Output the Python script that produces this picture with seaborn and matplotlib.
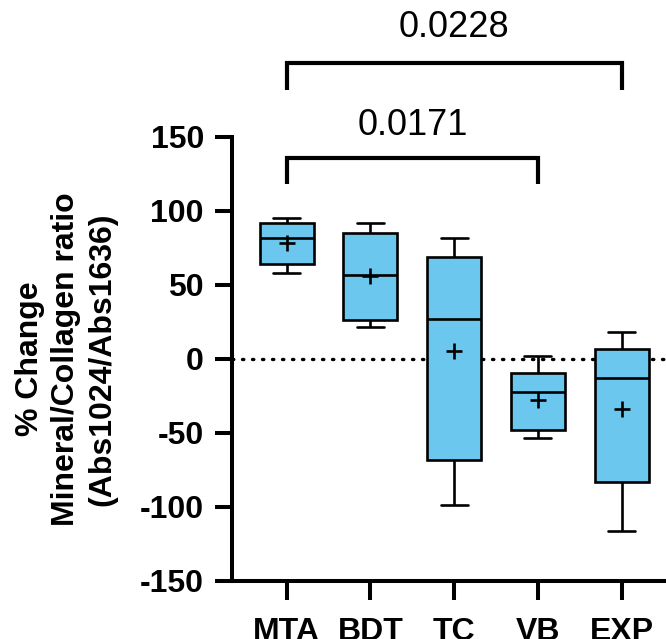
import matplotlib
matplotlib.use("Agg")
import matplotlib.pyplot as plt
import seaborn as sns
import pandas as pd

# ---- data ----
groups = ["MTA", "BDT", "TC", "VB", "EXP"]
# five-number summaries: min, Q1, median, Q3, max
mta = [58, 64, 82, 91.5, 95.5]
bdt = [21.5, 26, 57, 85, 91.5]
tc = [-99, -68, 27, 69, 81.5]
vb = [-53.5, -48, -22.5, -9.7, 1.7]
exp = [-116.5, -83, -13, 6.5, 18.3]
means = [78.6, 55.7, 5.4, -27.7, -33.5]

yticks = [-150, -100, -50, 0, 50, 100, 150]
ylabel = "% Change\nMineral/Collagen ratio\n(Abs1024/Abs1636)"

# significance brackets: (group a, group b, bar level, leg bottom, label, label baseline)
brackets = [
    ("MTA", "VB", 136, 118, "0.0171", 151.5),
    ("MTA", "EXP", 200, 182, "0.0228", 217.5),
]

box_color = "#6CC7EF"

df = pd.DataFrame({
    "group": [g for g, vals in zip(groups, [mta, bdt, tc, vb, exp]) for _ in vals],
    "value": mta + bdt + tc + vb + exp,
})
mean_df = pd.DataFrame({"group": groups, "mean": means})

sns.set_style("ticks")
plt.rcParams["font.family"] = ["Liberation Sans", "DejaVu Sans"]
plt.rcParams.update({
    "text.color": "black",
    "axes.labelcolor": "black",
    "xtick.color": "black",
    "ytick.color": "black",
    "axes.edgecolor": "black",
})

fig = plt.figure(figsize=(6.66, 6.39), dpi=100)
ax = fig.add_axes([0.348, 0.0908, 0.668, 0.695])

ax.axhline(0, color="black", lw=2.4, linestyle=(0, (0.4, 2.6)),
           dash_capstyle="round", zorder=0)

sns.boxplot(data=df, x="group", y="value", order=groups, ax=ax,
            whis=(0, 100), width=0.645, color=box_color, saturation=1,
            linecolor="black", linewidth=1.9, showfliers=False, zorder=2)

sns.scatterplot(data=mean_df, x="group", y="mean", ax=ax, marker="+",
                s=120, color="black", linewidth=1.9, zorder=5, legend=False)

ax.set_xlim(-0.657, len(groups) - 1 + 0.657)
ax.set_ylim(-150, 150)
ax.set_yticks(yticks)
ax.set_yticklabels([str(t) for t in yticks])
ax.set_xlabel("")
ax.set_ylabel(ylabel, fontsize=23, fontweight="bold", linespacing=1.27,
              va="center", ha="center", color="black")
ax.yaxis.set_label_coords(-0.372, 0.5)

for s in ["top", "right"]:
    ax.spines[s].set_visible(False)
for s in ["left", "bottom"]:
    ax.spines[s].set_linewidth(2.9)
    ax.spines[s].set_color("black")

ax.tick_params(axis="y", left=True, length=12, width=2.9, pad=8, labelsize=23,
               color="black", labelcolor="black")
ax.tick_params(axis="x", bottom=True, length=14, width=2.9, pad=12, labelsize=23,
               color="black", labelcolor="black")
for lab in ax.get_xticklabels() + ax.get_yticklabels():
    lab.set_fontweight("bold")

for a, b, top, leg, label, ty in brackets:
    xa, xb = groups.index(a), groups.index(b)
    ax.plot([xa, xa, xb, xb], [leg, top, top, leg], color="black", lw=3,
            clip_on=False, solid_joinstyle="miter", solid_capstyle="butt")
    ax.text((xa + xb) / 2, ty, label, ha="center", va="baseline",
            fontsize=26, color="black", clip_on=False)

fig.savefig("out.png", dpi=100)
